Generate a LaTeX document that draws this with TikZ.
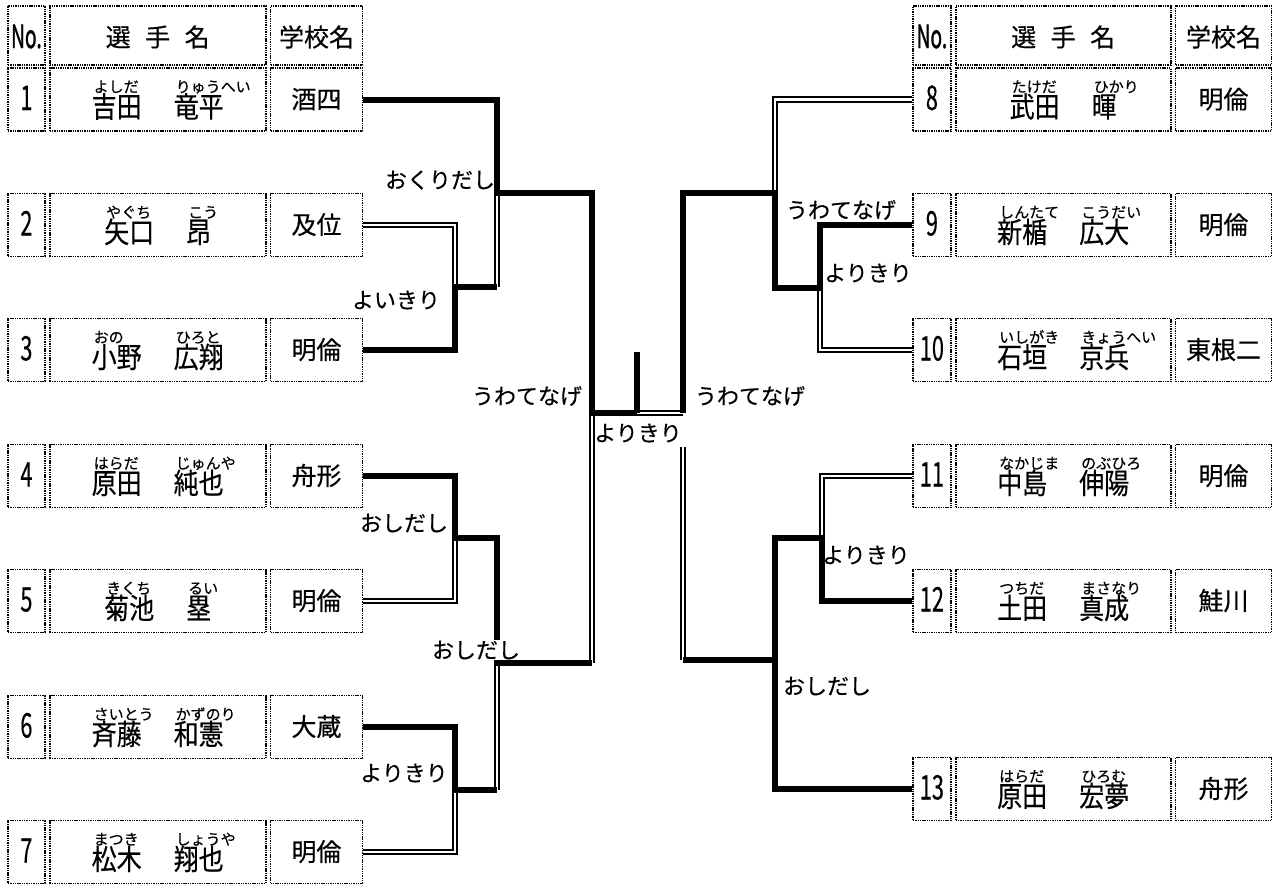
\documentclass[tikz,border=0pt]{standalone}
\usepackage{graphicx}
\usepackage{fontspec}
\setmainfont{Noto Sans CJK JP}[FakeBold=0.4]
\usetikzlibrary{positioning,backgrounds}

\newcommand\rb[2]{\rlap{\raisebox{25pt}{\hspace{2pt}\fontsize{15pt}{15pt}\selectfont #2}}\scalebox{1}[1.15]{#1}}
\newcommand\nbr[1]{\scalebox{0.64}[1]{\fontsize{34pt}{34pt}\selectfont #1}}
\newcommand\sen{\hspace{32pt}}

\tikzset{
  cell/.style={draw, dash pattern=on 1.4pt off 0.9pt, line width=1.8pt, fill=white, minimum height=63pt, inner sep=0pt},
  nocell/.style={cell, text height=23pt, text depth=2pt},
  namecell/.style={cell, font=\fontsize{25pt}{25pt}\selectfont, text height=38pt, text depth=2.4pt},
  schoolcell/.style={cell, font=\fontsize{25pt}{25pt}\selectfont, text height=20pt, text depth=2pt},
  headcell/.style={minimum height=59pt, text height=24pt, text depth=2pt},
  win/.style={line width=6pt},
  lose/.style={double, line width=2pt, double distance=2.5pt},
  kimarite/.style={font=\fontsize{22pt}{22pt}\selectfont, inner sep=0.5pt},
}

\begin{document}
\begin{tikzpicture}[x=1pt, y=-1pt]
  \useasboundingbox (0,0) rectangle (1272,887);

  % left table
  \node[nocell, headcell, minimum width=37pt, anchor=west, text height=27pt] (hn1) at (7,35.5) {\scalebox{0.6}[1]{\fontsize{32pt}{32pt}\selectfont\addfontfeature{FakeBold=1.5}No.}};
  \node[namecell, headcell, minimum width=216pt, right=3pt of hn1] (hm1) {選\hspace{14.5pt}手\hspace{14.5pt}名};
  \node[schoolcell, headcell, minimum width=92pt, right=3pt of hm1] (hs1) {学校名};
  \foreach \i/\y/\nm/\sc in {
      1/99.5/{\rb{吉田}{よしだ}\sen\rb{竜平}{りゅうへい}}/酒四,
      2/225/{\rb{矢口}{やぐち}\sen\rb{昂}{こう}}/及位,
      3/350/{\rb{小野}{おの}\sen\rb{広翔}{ひろと}}/明倫,
      4/476/{\rb{原田}{はらだ}\sen\rb{純也}{じゅんや}}/舟形,
      5/601/{\rb{菊池}{きくち}\sen\rb{塁}{るい}}/明倫,
      6/727/{\rb{斉藤}{さいとう}\sen\rb{和憲}{かずのり}}/大蔵,
      7/852/{\rb{松木}{まつき}\sen\rb{翔也}{しょうや}}/明倫}{
    \node[nocell, minimum width=37pt, anchor=west] (n\i) at (7,\y) {\nbr{\i}};
    \node[namecell, minimum width=216pt, right=3pt of n\i] (m\i) {\nm};
    \node[schoolcell, minimum width=92pt, right=3pt of m\i] (s\i) {\sc};
  }

  % right table
  \node[nocell, headcell, minimum width=38pt, anchor=west, text height=27pt] (hn2) at (912,35.5) {\scalebox{0.6}[1]{\fontsize{32pt}{32pt}\selectfont\addfontfeature{FakeBold=1.5}No.}};
  \node[namecell, headcell, minimum width=215pt, right=3pt of hn2] (hm2) {選\hspace{14.5pt}手\hspace{14.5pt}名};
  \node[schoolcell, headcell, minimum width=96pt, right=3pt of hm2] (hs2) {学校名};
  \foreach \i/\y/\nm/\sc in {
      8/99.5/{\rb{武田}{たけだ}\sen\rb{暉}{ひかり}}/明倫,
      9/225/{\rb{新楯}{しんたて}\sen\rb{広大}{こうだい}}/明倫,
      10/350/{\rb{石垣}{いしがき}\sen\rb{京兵}{きょうへい}}/東根二,
      11/476/{\rb{中島}{なかじま}\sen\rb{伸陽}{のぶひろ}}/明倫,
      12/601/{\rb{土田}{つちだ}\sen\rb{真成}{まさなり}}/鮭川,
      13/789/{\rb{原田}{はらだ}\sen\rb{宏夢}{ひろむ}}/舟形}{
    \node[nocell, minimum width=38pt, anchor=west] (n\i) at (912,\y) {\nbr{\i}};
    \node[namecell, minimum width=215pt, right=3pt of n\i] (m\i) {\nm};
    \node[schoolcell, minimum width=96pt, right=3pt of m\i] (s\i) {\sc};
  }

  \coordinate (j23) at (455,287);
  \coordinate (j123) at (497,193);
  \coordinate (j45) at (455,538);
  \coordinate (j67) at (455,790);
  \coordinate (j4567) at (497,663);
  \coordinate (jL) at (592,413);
  \coordinate (jF) at (637,413);
  \coordinate (top) at (637,352);
  \coordinate (jR) at (683,413);
  \coordinate (gapR) at (683,447);
  \coordinate (j910) at (820,288);
  \coordinate (j8910) at (775,193);
  \coordinate (j1112) at (822,538);
  \coordinate (j1113) at (775,660);

  \begin{scope}[on background layer]
    % losers
    \draw[lose] (s2.east) -| (j23);
    \draw[lose] (j23 -| j123) -- (j123);
    \draw[lose] (s5.east) -| (j45);
    \draw[lose] (s7.east) -| (j67);
    \draw[lose] (j67 -| j4567) -- (j4567);
    \draw[lose] (j4567 -| jL) -- (jL);
    \draw[lose] (jR) -- (jF);
    \draw[lose] (n8.west) -| (j8910);
    \draw[lose] (n10.west) -| (j910);
    \draw[lose] (n11.west) -| (j1112);
    \draw[lose] (j1113 -| jR) -- (gapR);

    % winners
    \draw[win] (s1.east) -| (j123) -- (j123 -| jL) -- (jL) -- (jF);
    \draw[win] (top) -- (jF);
    \draw[win] (s3.east) -| (j23) -- (j23 -| j123);
    \draw[win] (s4.east) -| (j45) -- (j45 -| j4567) -- (j4567) -- (j4567 -| jL);
    \draw[win] (s6.east) -| (j67) -- (j67 -| j4567);
    \draw[win] (n9.west) -| (j910) -- (j910 -| j8910) -- (j8910) -- (j8910 -| jR) -- (jR);
    \draw[win] (n12.west) -| (j1112) -- (j1112 -| j1113) -- (j1113) -- (j1113 -| jR);
    \draw[win] (n13.west) -| (j1113);

    \node[kimarite] (k1) at (440,180) {おくりだし};
    \node[kimarite] (k2) at (396,300) {よいきり};
    \node[kimarite] (k3) at (404,523) {おしだし};
    \node[kimarite, fill=white] (k4) at (476,650) {おしだし};
    \node[kimarite] (k5) at (404,773) {よりきり};
    \node[kimarite] (k6) at (527,396) {うわてなげ};
    \node[kimarite] (k7) at (638,433) {よりきり};
    \node[kimarite] (k8) at (750,396) {うわてなげ};
    \node[kimarite] (k9) at (841,210) {うわてなげ};
    \node[kimarite] (k10) at (868,273) {よりきり};
    \node[kimarite] (k11) at (866,555) {よりきり};
    \node[kimarite] (k12) at (827,686) {おしだし};
  \end{scope}
\end{tikzpicture}
\end{document}
